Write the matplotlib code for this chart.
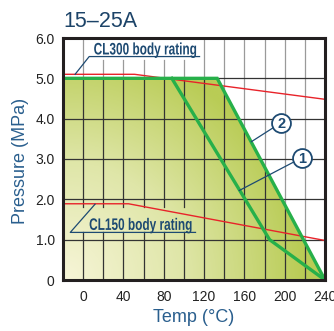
import numpy as np
import matplotlib
matplotlib.use("Agg")
import matplotlib.pyplot as plt
from matplotlib import font_manager as fm
from matplotlib.patches import Polygon, PathPatch
from matplotlib.textpath import TextPath
from matplotlib.transforms import Affine2D, ScaledTranslation
from matplotlib.colors import LinearSegmentedColormap

# fonts
names = {f.name for f in fm.fontManager.ttflist}
sans = "Liberation Sans" if "Liberation Sans" in names else "DejaVu Sans"

# data
cl300_t = [-20, 51, 240]
cl300_p = [5.1, 5.1, 4.48]
cl150_t = [-20, 45, 240]
cl150_p = [1.89, 1.89, 0.98]
line2_t = [-20, 133, 240]
line2_p = [5.0, 5.0, 0.0]
line1_t = [88, 185, 240]
line1_p = [5.0, 1.0, 0.0]

x_ticks = [0, 40, 80, 120, 160, 200, 240]
y_ticks = [0, 1, 2, 3, 4, 5, 6]
y_labels = ["0", "1.0", "2.0", "3.0", "4.0", "5.0", "6.0"]

navy = "#1d4a72"
label_blue = "#2a5f8e"
red = "#e8232a"
green = "#27b04a"

fig = plt.figure(figsize=(3.34, 3.31), dpi=100)
ax = fig.add_axes([63 / 334, 51 / 331, 262 / 334, 242 / 331])
ax.set_xlim(-20, 240)
ax.set_ylim(0, 6)


def narrow_text(x, y, s, size, squeeze=0.71):
    # bold text squeezed sideways, centred on a data point
    fp = fm.FontProperties(family=sans, weight="bold")
    tp = TextPath((0, 0), s, size=size, prop=fp)
    ext = tp.get_extents()
    cx = (ext.x0 + ext.x1) / 2
    cy = size * 0.716 / 2
    tr = (Affine2D().translate(-cx, -cy).scale(squeeze, 1).scale(fig.dpi / 72)
          + ScaledTranslation(x, y, ax.transData))
    ax.add_patch(PathPatch(tp, transform=tr, facecolor=navy, edgecolor="none",
                           zorder=5))


# gradient fill under curve 2
poly = Polygon(list(zip([-20] + line2_t, [0] + line2_p)), closed=True,
               facecolor="none", edgecolor="none")
ax.add_patch(poly)
gx, gy = np.meshgrid(np.linspace(-20, 240, 300), np.linspace(0, 6, 300))
t = np.clip(np.sqrt(((gx + 20) / 240) ** 2 + (0.85 * gy / 5) ** 2), 0, 1)
cmap = LinearSegmentedColormap.from_list("g", ["#f7f5d8", "#dfe6a8", "#b9cc55"])
img = ax.imshow(t, extent=[-20, 240, 0, 6], origin="lower", aspect="auto",
                cmap=cmap, vmin=0, vmax=1, zorder=1)
img.set_clip_path(poly)

# grid lines, with gaps behind the labels
gaps = {x: [] for x in range(0, 240, 20)}
for x in range(20, 101, 20):
    gaps[x].append((5.45, 6.0))
for x in range(0, 101, 20):
    gaps[x].append((1.18, 1.81))
for x, g in gaps.items():
    segs = []
    y0 = 0
    for a, b in sorted(g):
        segs.append((y0, a))
        y0 = b
    segs.append((y0, 6))
    for a, b in segs:
        ax.plot([x, x], [a, b], color="#9a9a9a", lw=0.9, zorder=0.5)
        ln, = ax.plot([x, x], [a, b], color="#333333", lw=0.9, zorder=1.5)
        ln.set_clip_path(poly)
for y in range(1, 6):
    ax.plot([-20, 240], [y, y], color="#333333", lw=0.9, zorder=1.5)

# rating lines and curves
ax.plot(cl300_t, cl300_p, color=red, lw=1.0, zorder=3)
ax.plot(cl150_t, cl150_p, color=red, lw=1.0, zorder=3)
ax.plot(line2_t, line2_p, color=green, lw=2.4, zorder=4, solid_joinstyle="miter")
ax.plot(line1_t, line1_p, color=green, lw=2.4, zorder=4, solid_joinstyle="miter")

# body rating labels
ax.plot([-8, 6, 115.5], [5.1, 5.54, 5.54], color=navy, lw=0.9, zorder=5)
narrow_text(61.5, 5.74, "CL300 body rating", 12)
ax.plot([11.8, -12.8, 111.5], [1.88, 1.18, 1.18], color=navy, lw=0.9, zorder=5)
narrow_text(57, 1.39, "CL150 body rating", 12)

# numbered callouts
for num, (cx, cy), (ex, ey) in [("2", (196.4, 3.9), (167, 3.43)),
                                ("1", (217, 3.03), (155, 2.22))]:
    ax.plot([ex, cx], [ey, cy], color=navy, lw=0.9, zorder=5)
    ax.scatter([cx], [cy], s=185, facecolor="white", edgecolor=navy,
               linewidth=1.3, zorder=6)
    ax.text(cx, cy - 0.02, num, ha="center", va="center", fontsize=10.5,
            fontweight="bold", family=sans, color=navy, zorder=7)

# axes styling
for s in ax.spines.values():
    s.set_linewidth(2.2)
    s.set_color("#231f20")
    s.set_zorder(8)
ax.set_xticks(x_ticks)
ax.set_xticklabels([str(v) for v in x_ticks])
ax.set_yticks(y_ticks)
ax.set_yticklabels(y_labels)
ax.tick_params(length=0, labelsize=10, colors="#222222")
ax.tick_params(axis="y", pad=6)
ax.tick_params(axis="x", pad=7)
for lab in ax.get_xticklabels() + ax.get_yticklabels():
    lab.set_family(sans)

fig.text(63 / 334, 1 - 27 / 331, "15\u201325A", fontsize=15.5, family=sans,
         color="#1c4368", ha="left", va="baseline")
fig.text(194 / 334, 1 - 318 / 331, "Temp (\u00b0C)", fontsize=13, family=sans,
         color=label_blue, ha="center", va="center")
fig.text(21 / 334, 1 - 161 / 331, "Pressure (MPa)", fontsize=13, family=sans,
         color=label_blue, ha="center", va="center", rotation=90)

fig.savefig("out.png", dpi=100)
